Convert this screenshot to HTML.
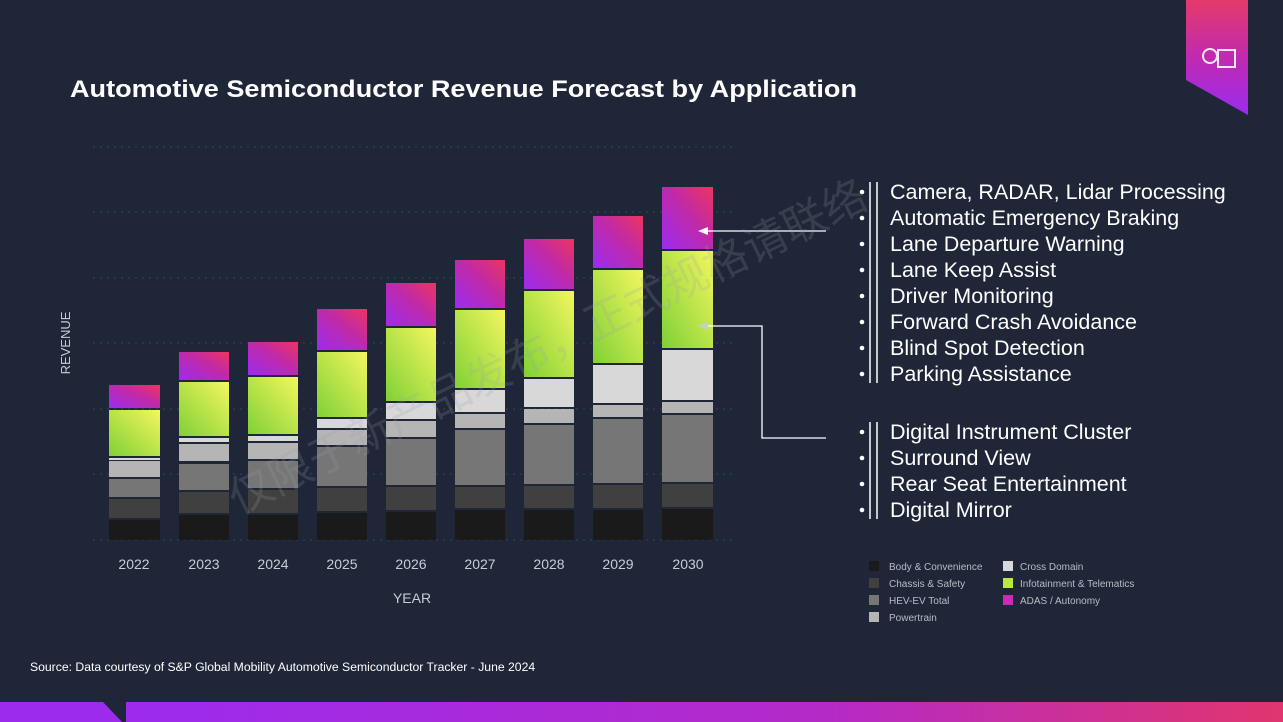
<!DOCTYPE html>
<html><head><meta charset="utf-8"><style>
html,body{margin:0;padding:0;background:#1e2638;}
svg{display:block;}
text{font-family:"Liberation Sans","Noto Sans CJK SC",sans-serif;}
</style></head><body>
<svg width="1283" height="722" viewBox="0 0 1283 722" xmlns="http://www.w3.org/2000/svg">
<defs>
<linearGradient id="gA" x1="0" y1="1" x2="1" y2="0"><stop offset="0" stop-color="#9b2cf0"/><stop offset="0.55" stop-color="#c02aa8"/><stop offset="1" stop-color="#ec3560"/></linearGradient>
<linearGradient id="gI" x1="0" y1="1" x2="1" y2="0"><stop offset="0" stop-color="#7fd136"/><stop offset="1" stop-color="#f4f65e"/></linearGradient>
<linearGradient id="gL" x1="0" y1="0" x2="0" y2="1"><stop offset="0" stop-color="#e53a6a"/><stop offset="0.5" stop-color="#c02ab0"/><stop offset="1" stop-color="#9a2cf0"/></linearGradient>
<linearGradient id="gB" x1="0" y1="0" x2="1" y2="0"><stop offset="0" stop-color="#9c2bee"/><stop offset="0.6" stop-color="#b42ac8"/><stop offset="1" stop-color="#e0356e"/></linearGradient>
</defs>
<rect width="1283" height="722" fill="#1e2638"/>
<polygon points="1186,0 1248,0 1248,115 1186,80" fill="url(#gL)"/>
<circle cx="1210" cy="56" r="7" fill="none" stroke="#f4e8f4" stroke-width="2"/>
<rect x="1218" y="50" width="17" height="17" fill="none" stroke="#f4e8f4" stroke-width="2"/>
<polygon points="0,702 103,702 122,722 0,722" fill="#9c2bee"/>
<polygon points="126,702 1283,702 1283,722 126,722" fill="url(#gB)"/>
<text x="70" y="97" font-size="24" font-weight="bold" fill="#ffffff" textLength="787" lengthAdjust="spacingAndGlyphs">Automotive Semiconductor Revenue Forecast by Application</text>
<g stroke="#3a4459" stroke-width="1" stroke-dasharray="2,5">
<line x1="93" y1="147" x2="733" y2="147"/><line x1="93" y1="212" x2="733" y2="212"/><line x1="93" y1="278" x2="733" y2="278"/><line x1="93" y1="343" x2="733" y2="343"/><line x1="93" y1="409" x2="733" y2="409"/><line x1="93" y1="474" x2="733" y2="474"/><line x1="93" y1="540" x2="733" y2="540"/>
</g>
<g id="bars">
<rect x="109" y="385" width="51" height="23" fill="url(#gA)"/><rect x="109" y="410" width="51" height="46" fill="url(#gI)"/><rect x="109" y="458" width="51" height="2" fill="#d8d8d8"/><rect x="109" y="461" width="51" height="16" fill="#b5b5b5"/><rect x="109" y="479" width="51" height="18" fill="#767676"/><rect x="109" y="499" width="51" height="19" fill="#404040"/><rect x="109" y="520" width="51" height="20" fill="#1a1a1a"/>
<rect x="179" y="352" width="50" height="28" fill="url(#gA)"/><rect x="179" y="382" width="50" height="54" fill="url(#gI)"/><rect x="179" y="438" width="50" height="4" fill="#d8d8d8"/><rect x="179" y="444" width="50" height="17" fill="#b5b5b5"/><rect x="179" y="464" width="50" height="26" fill="#767676"/><rect x="179" y="492" width="50" height="21" fill="#404040"/><rect x="179" y="515" width="50" height="25" fill="#1a1a1a"/>
<rect x="248" y="342" width="50" height="33" fill="url(#gA)"/><rect x="248" y="377" width="50" height="57" fill="url(#gI)"/><rect x="248" y="436" width="50" height="5" fill="#d8d8d8"/><rect x="248" y="443" width="50" height="16" fill="#b5b5b5"/><rect x="248" y="461" width="50" height="27" fill="#767676"/><rect x="248" y="490" width="50" height="23" fill="#404040"/><rect x="248" y="515" width="50" height="25" fill="#1a1a1a"/>
<rect x="317" y="309" width="50" height="41" fill="url(#gA)"/><rect x="317" y="352" width="50" height="65" fill="url(#gI)"/><rect x="317" y="419" width="50" height="9" fill="#d8d8d8"/><rect x="317" y="430" width="50" height="15" fill="#b5b5b5"/><rect x="317" y="447" width="50" height="39" fill="#767676"/><rect x="317" y="488" width="50" height="23" fill="#404040"/><rect x="317" y="513" width="50" height="27" fill="#1a1a1a"/>
<rect x="386" y="283" width="50" height="43" fill="url(#gA)"/><rect x="386" y="328" width="50" height="73" fill="url(#gI)"/><rect x="386" y="403" width="50" height="16" fill="#d8d8d8"/><rect x="386" y="421" width="50" height="16" fill="#b5b5b5"/><rect x="386" y="439" width="50" height="46" fill="#767676"/><rect x="386" y="487" width="50" height="23" fill="#404040"/><rect x="386" y="512" width="50" height="28" fill="#1a1a1a"/>
<rect x="455" y="260" width="50" height="48" fill="url(#gA)"/><rect x="455" y="310" width="50" height="78" fill="url(#gI)"/><rect x="455" y="390" width="50" height="22" fill="#d8d8d8"/><rect x="455" y="414" width="50" height="14" fill="#b5b5b5"/><rect x="455" y="430" width="50" height="55" fill="#767676"/><rect x="455" y="487" width="50" height="21" fill="#404040"/><rect x="455" y="510" width="50" height="30" fill="#1a1a1a"/>
<rect x="524" y="239" width="50" height="50" fill="url(#gA)"/><rect x="524" y="291" width="50" height="86" fill="url(#gI)"/><rect x="524" y="379" width="50" height="28" fill="#d8d8d8"/><rect x="524" y="409" width="50" height="14" fill="#b5b5b5"/><rect x="524" y="425" width="50" height="59" fill="#767676"/><rect x="524" y="486" width="50" height="22" fill="#404040"/><rect x="524" y="510" width="50" height="30" fill="#1a1a1a"/>
<rect x="593" y="216" width="50" height="52" fill="url(#gA)"/><rect x="593" y="270" width="50" height="93" fill="url(#gI)"/><rect x="593" y="365" width="50" height="38" fill="#d8d8d8"/><rect x="593" y="405" width="50" height="12" fill="#b5b5b5"/><rect x="593" y="419" width="50" height="64" fill="#767676"/><rect x="593" y="485" width="50" height="23" fill="#404040"/><rect x="593" y="510" width="50" height="30" fill="#1a1a1a"/>
<rect x="662" y="187" width="51" height="62" fill="url(#gA)"/><rect x="662" y="251" width="51" height="97" fill="url(#gI)"/><rect x="662" y="350" width="51" height="50" fill="#d8d8d8"/><rect x="662" y="402" width="51" height="11" fill="#b5b5b5"/><rect x="662" y="415" width="51" height="67" fill="#767676"/><rect x="662" y="484" width="51" height="23" fill="#404040"/><rect x="662" y="509" width="51" height="31" fill="#1a1a1a"/>
</g>
<g fill="#c8ccd4" font-size="14" text-anchor="middle">
<text x="134" y="569">2022</text><text x="204" y="569">2023</text><text x="273" y="569">2024</text><text x="342" y="569">2025</text><text x="411" y="569">2026</text><text x="480" y="569">2027</text><text x="549" y="569">2028</text><text x="618" y="569">2029</text><text x="688" y="569">2030</text>
<text x="412" y="603">YEAR</text>
<text x="0" y="0" font-size="13" transform="translate(70,343) rotate(-90)">REVENUE</text>
</g>
<g stroke="#ffffff" stroke-width="1.3" fill="none">
<line x1="826" y1="231" x2="704" y2="231"/>
<polyline points="826,438 762,438 762,326 704,326"/>
</g>
<polygon points="698,231 708,227 708,235" fill="#ffffff"/>
<polygon points="698,326 708,322 708,330" fill="#cccccc"/>
<g stroke="#ffffff" stroke-width="1.5">
<line x1="870" y1="182" x2="870" y2="383"/><line x1="877" y1="182" x2="877" y2="383"/>
<line x1="870" y1="422" x2="870" y2="519"/><line x1="877" y1="422" x2="877" y2="519"/>
</g>
<g fill="#ffffff">
<g><circle cx="862" cy="192" r="2.3"/><circle cx="862" cy="218" r="2.3"/><circle cx="862" cy="244" r="2.3"/><circle cx="862" cy="270" r="2.3"/><circle cx="862" cy="296" r="2.3"/><circle cx="862" cy="322" r="2.3"/><circle cx="862" cy="348" r="2.3"/><circle cx="862" cy="374" r="2.3"/><circle cx="862" cy="432" r="2.3"/><circle cx="862" cy="458" r="2.3"/><circle cx="862" cy="484" r="2.3"/><circle cx="862" cy="510" r="2.3"/></g>
<g font-size="21.5">
<text x="890" y="199">Camera, RADAR, Lidar Processing</text>
<text x="890" y="225">Automatic Emergency Braking</text>
<text x="890" y="251">Lane Departure Warning</text>
<text x="890" y="277">Lane Keep Assist</text>
<text x="890" y="303">Driver Monitoring</text>
<text x="890" y="329">Forward Crash Avoidance</text>
<text x="890" y="355">Blind Spot Detection</text>
<text x="890" y="381">Parking Assistance</text>
<text x="890" y="439">Digital Instrument Cluster</text>
<text x="890" y="465">Surround View</text>
<text x="890" y="491">Rear Seat Entertainment</text>
<text x="890" y="517">Digital Mirror</text>
</g>
</g>
<g font-size="10" fill="#b8bcc6">
<rect x="869" y="561" width="10" height="10" fill="#1a1a1a"/><text x="889" y="570">Body &amp; Convenience</text>
<rect x="869" y="578" width="10" height="10" fill="#404040"/><text x="889" y="587">Chassis &amp; Safety</text>
<rect x="869" y="595" width="10" height="10" fill="#767676"/><text x="889" y="604">HEV-EV Total</text>
<rect x="869" y="612" width="10" height="10" fill="#b5b5b5"/><text x="889" y="621">Powertrain</text>
<rect x="1003" y="561" width="10" height="10" fill="#d8d8d8"/><text x="1020" y="570">Cross Domain</text>
<rect x="1003" y="578" width="10" height="10" fill="#b8ea3e"/><text x="1020" y="587">Infotainment &amp; Telematics</text>
<rect x="1003" y="595" width="10" height="10" fill="#cc2ab8"/><text x="1020" y="604">ADAS / Autonomy</text>
</g>
<text x="30" y="671" font-size="12.2" fill="#ffffff">Source: Data courtesy of S&amp;P Global Mobility Automotive Semiconductor Tracker - June 2024</text>
<text x="0" y="0" font-size="44" fill="#9aa0aa" fill-opacity="0.2" transform="translate(238,515) rotate(-26)">仅限于新产品发布，正式规格请联络</text>
</svg>
</body></html>
